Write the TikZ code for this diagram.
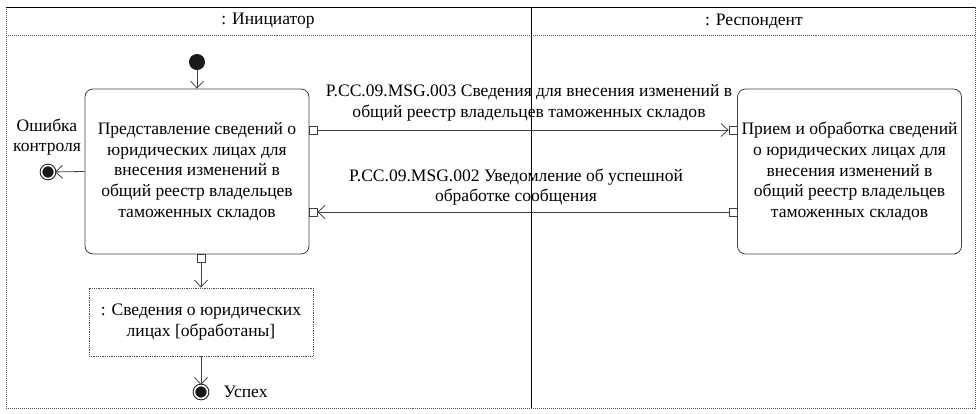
\documentclass[tikz,border=0pt]{standalone}
\usepackage{fontspec}
\setmainfont{Liberation Serif}
\usetikzlibrary{arrows.meta}

\begin{document}
\begin{tikzpicture}[x=1bp,y=1bp,line width=0.8bp,
    every node/.style={font=\fontsize{17.6}{20.7}\selectfont, text=black},
    action/.style={draw=black!75, rounded corners=8bp, minimum width=224bp, minimum height=165bp, align=center, inner sep=0pt},
    object/.style={draw=black!70, densely dotted, minimum width=224bp, minimum height=68bp, align=center, inner sep=0pt},
    pinbox/.style={draw=black!75, fill=white, minimum size=8bp, inner sep=0pt},
    initial/.style={circle, fill=black!90, minimum size=16bp, inner sep=0pt},
    final/.style={circle, draw=black!90, fill=black!90, double=white, double distance=1.6bp, line width=1bp, minimum size=13bp, inner sep=0pt},
    flow/.style={draw=black!75, -{Straight Barb[length=7bp,width=13bp]}},
    lane/.style={draw=black!65, densely dotted, line width=1bp}]
  \useasboundingbox (0,0) rectangle (980,-413);
  % frame and lanes
  \draw[lane] (6,-7) -- (6,-408) -- (975,-408) -- (975,-7);
  \draw[lane] (6,-35) -- (975,-35);
  \draw[black, line width=1bp] (6,-7) -- (975,-7);
  \draw[black, line width=1bp] (531,-7) -- (531,-408);
  \node (initiator) at (268,-21) {: Инициатор};
  \node (respondent) at (754,-21) {: Респондент};
  % initiator
  \node[initial] (start) at (197,-62) {};
  \node[action] (prepare) at (197,-171.5) {Представление сведений о\\юридических лицах для\\внесения изменений в\\общий реестр владельцев\\таможенных складов};
  \node[final] (errEnd) at (48,-172) {};
  \node[align=center] (errLabel) at (47,-137) {Ошибка\\контроля};
  \node[pinbox] (prepOut) at (313,-130) {};
  \node[pinbox] (prepIn) at (313,-212) {};
  \node[pinbox] (prepDown) at (201,-258) {};
  \node[object] (data) at (201,-322) {: Сведения о юридических\\лицах [обработаны]};
  \node[final] (okEnd) at (201,-392) {};
  \node[anchor=west] (okLabel) at (220,-392) {Успех};
  % respondent
  \node[action] (process) at (849.5,-171.5) {Прием и обработка сведений\\о юридических лицах для\\внесения изменений в\\общий реестр владельцев\\таможенных складов};
  \node[pinbox] (procIn) at (733,-130) {};
  \node[pinbox] (procOut) at (733,-212) {};
  % flows
  \draw[flow] (start) -- (prepare);
  \draw[flow] (prepare.west) -- (errEnd);
  \draw[flow] (prepDown) -- (data);
  \draw[flow] (data) -- (okEnd);
  \draw[flow] (prepOut) -- node[align=center, yshift=27bp, xshift=6bp] (msgA) {P.CC.09.MSG.003 Сведения для внесения изменений в\\общий реестр владельцев таможенных складов} (procIn);
  \draw[flow] (procOut) -- node[align=center, yshift=25bp, xshift=-7bp] (msgB) {P.CC.09.MSG.002 Уведомление об успешной\\обработке сообщения} (prepIn);
\end{tikzpicture}
\end{document}
